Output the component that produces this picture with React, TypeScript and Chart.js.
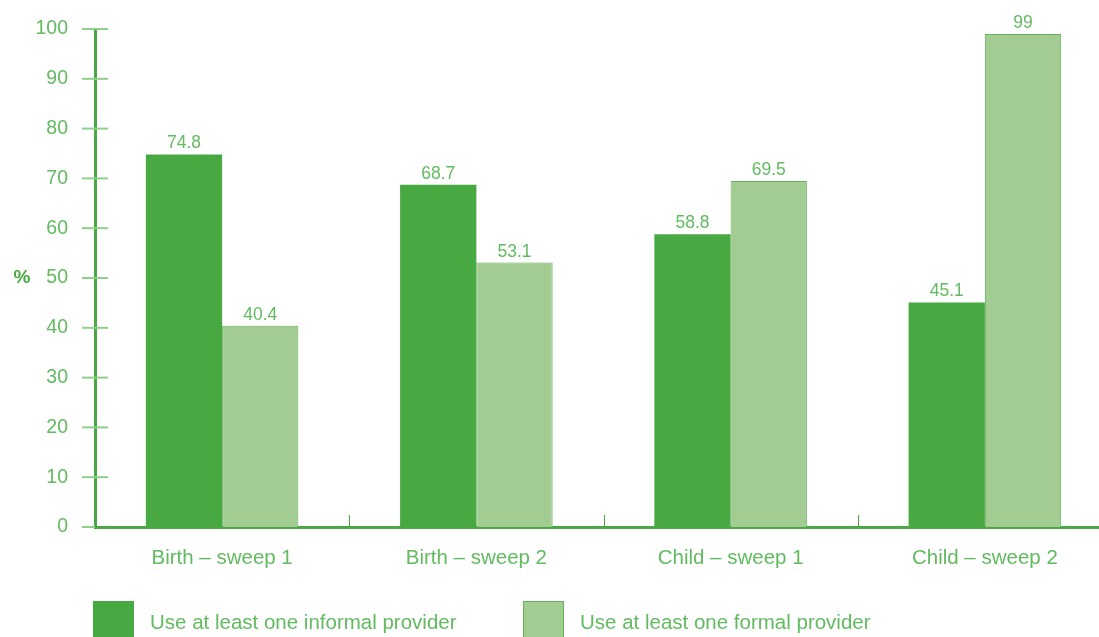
import React, { useEffect, useRef } from "react";
import { Chart, registerables } from "chart.js";

Chart.register(...registerables);

const categories = ["Birth – sweep 1", "Birth – sweep 2", "Child – sweep 1", "Child – sweep 2"];
const informalValues = [74.8, 68.7, 58.8, 45.1];
const formalValues = [40.4, 53.1, 69.5, 99];
const seriesNames = ["Use at least one informal provider", "Use at least one formal provider"];
const yTicks = [0, 10, 20, 30, 40, 50, 60, 70, 80, 90, 100];

const DARK = "#48a942";
const LIGHT = "#a3cc93";
const LIGHT_BORDER = "#62b45c";
const TEXT = "#62bb60";
const TICK = "#8fcf8c";
const FONT = "'Liberation Sans', Arial, sans-serif";

const overlay = {
  id: "overlay",
  afterDraw(chart: any) {
    const ctx = chart.ctx;
    const x = chart.scales.x;
    const y = chart.scales.y;
    const area = chart.chartArea;
    ctx.save();
    ctx.strokeStyle = TICK;
    ctx.lineWidth = 2;
    yTicks.forEach((v) => {
      const py = y.getPixelForValue(v);
      ctx.beginPath();
      ctx.moveTo(area.left - 13, py);
      ctx.lineTo(v === 0 ? area.left : area.left + 13, py);
      ctx.stroke();
    });
    ctx.strokeStyle = DARK;
    ctx.lineWidth = 1;
    for (let i = 0; i < categories.length - 1; i++) {
      const px = Math.round((x.getPixelForValue(i) + x.getPixelForValue(i + 1)) / 2) + 0.5;
      ctx.beginPath();
      ctx.moveTo(px, area.bottom - 12);
      ctx.lineTo(px, area.bottom);
      ctx.stroke();
    }
    ctx.fillStyle = TEXT;
    ctx.font = `17.5px ${FONT}`;
    ctx.textAlign = "center";
    ctx.textBaseline = "alphabetic";
    chart.data.datasets.forEach((ds: any, di: number) => {
      const meta = chart.getDatasetMeta(di);
      meta.data.forEach((bar: any, i: number) => {
        ctx.fillText(String(ds.data[i]), bar.x, bar.y - 6);
      });
    });
    ctx.fillStyle = DARK;
    ctx.font = `bold 19px ${FONT}`;
    ctx.textBaseline = "middle";
    ctx.fillText("%", 22, y.getPixelForValue(50));
    const legendX = [93, 523];
    const colors = [DARK, LIGHT];
    ctx.font = `20.5px ${FONT}`;
    ctx.textAlign = "left";
    seriesNames.forEach((name, i) => {
      ctx.fillStyle = colors[i];
      ctx.fillRect(legendX[i], 601, 41, 41);
      if (i === 1) {
        ctx.strokeStyle = LIGHT_BORDER;
        ctx.lineWidth = 1;
        ctx.strokeRect(legendX[i] + 0.5, 601.5, 40, 40);
      }
      ctx.fillStyle = TEXT;
      ctx.fillText(name, legendX[i] + 57, 623);
    });
    ctx.restore();
  },
};

export default function App() {
  const ref = useRef<HTMLCanvasElement>(null);
  useEffect(() => {
    if (!ref.current) return;
    const chart = new Chart(ref.current, {
      type: "bar",
      data: {
        labels: categories,
        datasets: [
          {
            label: seriesNames[0],
            data: informalValues,
            backgroundColor: DARK,
            borderWidth: 0,
            categoryPercentage: 0.6,
            barPercentage: 1.0,
          },
          {
            label: seriesNames[1],
            data: formalValues,
            backgroundColor: LIGHT,
            borderColor: LIGHT_BORDER,
            borderWidth: 1,
            categoryPercentage: 0.6,
            barPercentage: 1.0,
          },
        ],
      },
      options: {
        responsive: false,
        animation: false,
        layout: { padding: { left: 0, right: 18, top: 29, bottom: 0 } },
        plugins: { legend: { display: false }, tooltip: { enabled: false } },
        scales: {
          x: {
            grid: { display: false },
            border: { display: true, color: DARK, width: 3 },
            ticks: { color: TEXT, font: { family: FONT, size: 20.5 }, padding: 11 },
            afterFit: (s: any) => {
              s.height = 110;
            },
          },
          y: {
            min: 0,
            max: 100,
            grid: { display: false, drawTicks: true, tickLength: 27 },
            border: { display: true, color: DARK, width: 3 },
            ticks: { stepSize: 10, color: TEXT, font: { family: FONT, size: 19.5 }, padding: 0 },
            afterFit: (s: any) => {
              s.width = 95;
            },
          },
        },
      },
      plugins: [overlay],
    });
    return () => chart.destroy();
  }, []);
  return (
    <div style={{ position: "fixed", left: 0, top: 0, width: 1099, height: 637, overflow: "hidden", background: "#fff" }}>
      <canvas ref={ref} width={1130} height={637} style={{ display: "block" }} />
    </div>
  );
}
